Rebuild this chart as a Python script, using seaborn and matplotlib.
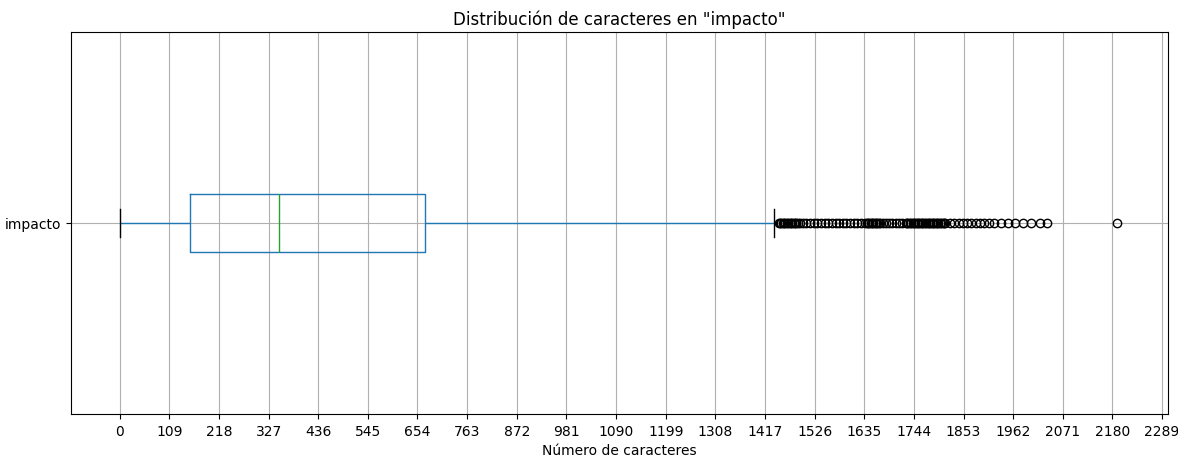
import numpy as np
import pandas as pd
import matplotlib
matplotlib.use("Agg")
import matplotlib.pyplot as plt
import seaborn as sns

# Box statistics
column = "impacto"
minimum = 0
q1 = 155
median = 350
q3 = 671
whisker_high = 1437

# Outlier values
outliers = [
    1447, 1450, 1453, 1456, 1459, 1462, 1465, 1468, 1471, 1474, 1477, 1480,
    1483, 1486, 1489, 1493,
    1500, 1508, 1516, 1524, 1532, 1540, 1548, 1556, 1564, 1572, 1580, 1588,
    1596, 1604, 1612, 1620, 1628, 1636,
    1640, 1643, 1646, 1649, 1652, 1655, 1658, 1661, 1664, 1667, 1670,
    1676, 1683, 1690, 1697, 1704, 1711, 1718,
    1726, 1729, 1732, 1735, 1738, 1741, 1744, 1747, 1750, 1753, 1756, 1759,
    1762, 1765, 1768, 1771, 1774, 1777, 1780, 1783, 1786, 1789, 1792, 1795,
    1798, 1801, 1804, 1807, 1810, 1813,
    1823, 1833, 1843, 1852, 1861, 1870, 1880, 1889, 1899, 1909, 1921, 1936,
    1951, 1966, 1984, 2002, 2020, 2037,
    2190,
]

xtick_values = [0, 109, 218, 327, 436, 545, 654, 763, 872, 981, 1090, 1199,
                1308, 1417, 1526, 1635, 1744, 1853, 1962, 2071, 2180, 2289]

# Build a sample whose quartiles reproduce the statistics above
block = 400
values = ([minimum] + [q1] * block + [median] * block + [q3] * block
          + [whisker_high] + outliers)
df = pd.DataFrame({"chars": values, "col": column})

fig = plt.figure(figsize=(11.78, 4.56), dpi=100)
ax = fig.add_axes([70.7 / 1178, 1 - 415 / 456, (1168 - 70.7) / 1178, (415 - 33) / 456])

sns.boxplot(
    data=df, x="chars", y="col", orient="y", ax=ax, fill=False, width=0.15,
    whis=1.5, linewidth=1,
    boxprops=dict(color="#1f77b4"),
    whiskerprops=dict(color="#1f77b4"),
    capprops=dict(color="black"),
    medianprops=dict(color="#2ca02c"),
    flierprops=dict(marker="o", markerfacecolor="none", markeredgecolor="black",
                    markersize=6, markeredgewidth=1),
)

ax.set_ylim(0.5, -0.5)
ax.set_xlim(-107.5, 2302)
ax.set_xticks(xtick_values)
ax.set_xticklabels([str(v) for v in xtick_values])
ax.set_yticks([0])
ax.set_yticklabels([column])
ax.set_ylabel("")
ax.set_xlabel("Número de caracteres")
ax.set_title('Distribución de caracteres en "impacto"')
ax.grid(True, color="#b0b0b0", linewidth=0.8)
ax.set_axisbelow(True)

fig.savefig("out.png", dpi=100)
